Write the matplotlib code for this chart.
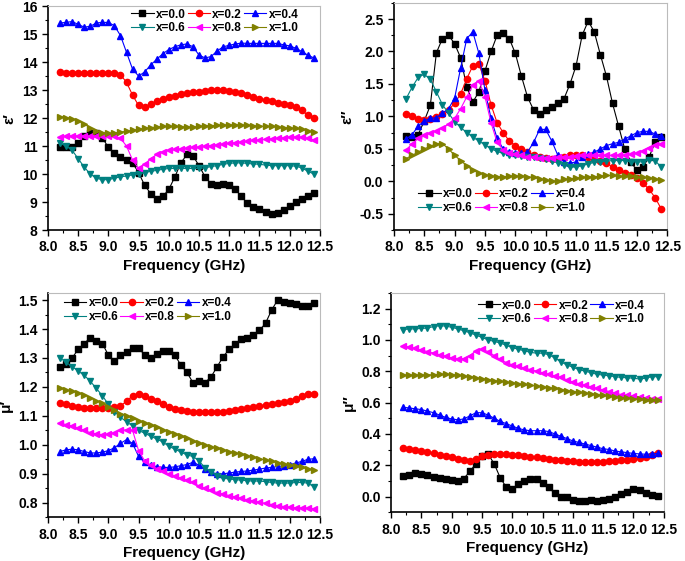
import numpy as np
import matplotlib
matplotlib.use('Agg')
import matplotlib.pyplot as plt
from matplotlib.ticker import MultipleLocator

plt.rcParams['font.family'] = ['Liberation Sans', 'DejaVu Sans']
plt.rcParams['font.weight'] = 'bold'

# frequency grid (GHz), 8.2 .. 12.4 step 0.1
freq = np.round(np.arange(8.2, 12.41, 0.1), 2)

labels = ['x=0.0', 'x=0.2', 'x=0.4', 'x=0.6', 'x=0.8', 'x=1.0']
colors = ['black', 'red', 'blue', '#008080', 'magenta', '#808000']
markers = ['s', 'o', '^', 'v', '<', '>']

# epsilon'
eps1_00 = [10.97, 10.95, 10.95, 11.1, 11.35, 11.45, 11.45, 11.3, 10.95, 10.75, 10.6, 10.5, 10.4, 10.05,
           9.6, 9.3, 9.12, 9.2, 9.45, 9.9, 10.4, 10.7, 10.65, 10.3, 9.9, 9.65, 9.62, 9.65, 9.6, 9.45,
           9.2, 8.95, 8.82, 8.75, 8.65, 8.58, 8.6, 8.7, 8.85, 9.0, 9.1, 9.2, 9.33]
eps1_02 = [13.65, 13.62, 13.62, 13.62, 13.62, 13.62, 13.62, 13.62, 13.62, 13.62, 13.55, 13.28, 12.82, 12.45,
           12.4, 12.5, 12.6, 12.68, 12.75, 12.8, 12.85, 12.88, 12.92, 12.95, 12.98, 13.0, 13.0, 13.0, 12.97,
           12.95, 12.9, 12.82, 12.75, 12.7, 12.65, 12.6, 12.55, 12.5, 12.45, 12.38, 12.28, 12.1, 12.02]
eps1_04 = [15.4, 15.42, 15.45, 15.35, 15.25, 15.28, 15.4, 15.42, 15.42, 15.3, 14.95, 14.35, 13.75, 13.5,
           13.65, 13.9, 14.1, 14.3, 14.45, 14.55, 14.62, 14.65, 14.55, 14.25, 14.15, 14.2, 14.4, 14.55, 14.6,
           14.65, 14.68, 14.67, 14.67, 14.67, 14.67, 14.67, 14.67, 14.62, 14.58, 14.5, 14.38, 14.25, 14.15]
eps1_06 = [11.1, 11.0, 10.85, 10.55, 10.25, 10.0, 9.85, 9.8, 9.8, 9.85, 9.9, 9.93, 9.97, 10.0,
           10.05, 10.1, 10.13, 10.17, 10.2, 10.2, 10.2, 10.2, 10.2, 10.2, 10.22, 10.27, 10.3, 10.35, 10.38,
           10.4, 10.4, 10.38, 10.36, 10.35, 10.32, 10.3, 10.3, 10.3, 10.3, 10.28, 10.22, 10.1, 10.0]
eps1_08 = [11.33, 11.35, 11.37, 11.37, 11.36, 11.36, 11.36, 11.37, 11.37, 11.35, 11.28, 11.0, 10.5, 10.2,
           10.35, 10.55, 10.7, 10.8, 10.85, 10.88, 10.9, 10.92, 10.95, 10.97, 11.0, 11.02, 11.05, 11.07, 11.1,
           11.12, 11.15, 11.17, 11.2, 11.22, 11.24, 11.26, 11.28, 11.3, 11.32, 11.33, 11.32, 11.28, 11.22]
eps1_10 = [12.05, 12.02, 11.98, 11.9, 11.8, 11.65, 11.55, 11.48, 11.45, 11.47, 11.5, 11.53, 11.56, 11.6,
           11.63, 11.66, 11.68, 11.7, 11.7, 11.7, 11.69, 11.68, 11.68, 11.7, 11.72, 11.73, 11.74, 11.75, 11.75,
           11.76, 11.75, 11.74, 11.72, 11.72, 11.7, 11.7, 11.68, 11.66, 11.65, 11.63, 11.6, 11.55, 11.5]

# epsilon''
eps2_00 = [0.70, 0.68, 0.72, 0.93, 1.17, 1.98, 2.2, 2.25, 2.12, 1.9, 1.45, 1.22, 1.38, 1.7,
           2.0, 2.25, 2.28, 2.2, 1.97, 1.62, 1.3, 1.1, 1.04, 1.1, 1.15, 1.2, 1.27, 1.5, 1.78,
           2.25, 2.47, 2.3, 1.95, 1.62, 1.2, 0.85, 0.5, 0.3, 0.17, 0.22, 0.37, 0.6, 0.69]
eps2_02 = [1.03, 1.0, 0.96, 0.95, 0.96, 0.99, 1.04, 1.1, 1.2, 1.35, 1.58, 1.78, 1.8, 1.55,
           1.18, 0.9, 0.75, 0.62, 0.55, 0.5, 0.45, 0.41, 0.38, 0.36, 0.35, 0.36, 0.38, 0.4, 0.41,
           0.41, 0.38, 0.35, 0.32, 0.28, 0.22, 0.17, 0.13, 0.1, 0.05, -0.03, -0.12, -0.25, -0.42]
eps2_04 = [0.65, 0.72, 0.85, 0.93, 0.97, 0.98, 1.05, 1.12, 1.28, 1.75, 2.2, 2.3, 1.97, 1.4,
           0.97, 0.66, 0.5, 0.45, 0.43, 0.43, 0.45, 0.6, 0.8, 0.8, 0.62, 0.4, 0.3, 0.28, 0.3,
           0.38, 0.42, 0.45, 0.5, 0.55, 0.58, 0.6, 0.65, 0.7, 0.75, 0.77, 0.77, 0.73, 0.7]
eps2_06 = [1.27, 1.45, 1.6, 1.65, 1.57, 1.38, 1.18, 1.05, 0.92, 0.83, 0.75, 0.68, 0.62, 0.56,
           0.5, 0.46, 0.43, 0.41, 0.4, 0.39, 0.38, 0.37, 0.36, 0.35, 0.32, 0.28, 0.25, 0.22, 0.22,
           0.24, 0.27, 0.29, 0.3, 0.31, 0.32, 0.32, 0.32, 0.3, 0.3, 0.3, 0.33, 0.32, 0.22]
eps2_08 = [0.48, 0.58, 0.66, 0.71, 0.74, 0.78, 0.82, 0.88, 0.97, 1.12, 1.3, 1.48, 1.55, 1.3,
           0.9, 0.6, 0.48, 0.44, 0.42, 0.4, 0.38, 0.37, 0.36, 0.36, 0.36, 0.37, 0.38, 0.38, 0.39,
           0.4, 0.4, 0.4, 0.4, 0.4, 0.4, 0.4, 0.41, 0.42, 0.44, 0.47, 0.52, 0.56, 0.58]
eps2_10 = [0.35, 0.4, 0.45, 0.5, 0.54, 0.58, 0.58, 0.5, 0.4, 0.32, 0.24, 0.17, 0.13, 0.1,
           0.08, 0.07, 0.07, 0.08, 0.08, 0.08, 0.07, 0.06, 0.04, 0.02, 0.0, 0.01, 0.03, 0.04, 0.05,
           0.06, 0.07, 0.07, 0.08, 0.09, 0.09, 0.08, 0.08, 0.08, 0.07, 0.06, 0.05, 0.04, 0.02]

# mu'
mu1_00 = [1.27, 1.28, 1.3, 1.33, 1.35, 1.37, 1.36, 1.35, 1.31, 1.29, 1.31, 1.32, 1.335, 1.335,
          1.31, 1.3, 1.315, 1.325, 1.325, 1.31, 1.275, 1.25, 1.215, 1.22, 1.215, 1.235, 1.27, 1.305, 1.33,
          1.35, 1.365, 1.37, 1.38, 1.395, 1.42, 1.465, 1.5, 1.495, 1.49, 1.485, 1.48, 1.478, 1.49]
mu1_02 = [1.145, 1.14, 1.135, 1.13, 1.128, 1.128, 1.128, 1.128, 1.128, 1.13, 1.135, 1.15, 1.17, 1.175,
          1.17, 1.16, 1.15, 1.14, 1.13, 1.125, 1.12, 1.118, 1.115, 1.113, 1.112, 1.112, 1.113, 1.115, 1.117,
          1.12, 1.123, 1.127, 1.13, 1.135, 1.138, 1.14, 1.145, 1.148, 1.152, 1.16, 1.168, 1.175, 1.177]
mu1_04 = [0.977, 0.983, 0.985, 0.983, 0.977, 0.972, 0.972, 0.975, 0.98, 0.99, 1.005, 1.018, 1.005, 0.96,
          0.94, 0.93, 0.925, 0.922, 0.922, 0.924, 0.928, 0.932, 0.94, 0.93, 0.915, 0.905, 0.9, 0.9, 0.903,
          0.906, 0.908, 0.91, 0.913, 0.916, 0.92, 0.922, 0.925, 0.928, 0.932, 0.937, 0.943, 0.95, 0.952]
mu1_06 = [1.3, 1.285, 1.27, 1.255, 1.24, 1.22, 1.195, 1.17, 1.14, 1.115, 1.095, 1.08, 1.065, 1.05,
          1.04, 1.03, 1.02, 1.01, 0.995, 0.985, 0.975, 0.965, 0.96, 0.945, 0.92, 0.905, 0.893, 0.885, 0.882,
          0.88, 0.878, 0.876, 0.875, 0.875, 0.873, 0.87, 0.868, 0.868, 0.868, 0.87, 0.87, 0.868, 0.855]
mu1_08 = [1.075, 1.07, 1.065, 1.058, 1.05, 1.042, 1.038, 1.035, 1.037, 1.042, 1.05, 1.052, 1.05, 0.98,
          0.945, 0.93, 0.918, 0.91, 0.9, 0.893, 0.885, 0.878, 0.87, 0.858, 0.85, 0.843, 0.835, 0.83, 0.825,
          0.82, 0.815, 0.81, 0.806, 0.802, 0.798, 0.794, 0.79, 0.787, 0.785, 0.783, 0.782, 0.781, 0.78]
mu1_10 = [1.195, 1.19, 1.185, 1.18, 1.172, 1.163, 1.153, 1.143, 1.132, 1.12, 1.108, 1.1, 1.092, 1.083,
          1.075, 1.067, 1.06, 1.052, 1.045, 1.037, 1.03, 1.022, 1.012, 1.005, 0.998, 0.993, 0.988, 0.982, 0.977,
          0.972, 0.967, 0.962, 0.957, 0.952, 0.948, 0.943, 0.938, 0.935, 0.93, 0.927, 0.922, 0.918, 0.913]

# mu''
mu2_00 = [0.13, 0.14, 0.15, 0.145, 0.135, 0.125, 0.12, 0.115, 0.105, 0.1, 0.115, 0.16, 0.21, 0.26,
          0.27, 0.21, 0.12, 0.06, 0.05, 0.08, 0.1, 0.115, 0.11, 0.085, 0.06, 0.02, -0.005, 0.0, -0.02,
          -0.03, -0.03, -0.025, -0.03, -0.025, -0.015, 0.0, 0.015, 0.03, 0.045, 0.04, 0.025, 0.01, 0.005]
mu2_02 = [0.31, 0.305, 0.298, 0.29, 0.282, 0.275, 0.268, 0.26, 0.252, 0.242, 0.232, 0.225, 0.24, 0.26,
          0.268, 0.27, 0.27, 0.27, 0.268, 0.265, 0.26, 0.255, 0.25, 0.245, 0.24, 0.235, 0.23, 0.227, 0.224,
          0.222, 0.22, 0.22, 0.22, 0.222, 0.225, 0.228, 0.232, 0.235, 0.24, 0.245, 0.255, 0.265, 0.275]
mu2_04 = [0.57, 0.565, 0.56, 0.555, 0.545, 0.535, 0.52, 0.505, 0.495, 0.49, 0.495, 0.515, 0.535, 0.535,
          0.52, 0.5, 0.48, 0.465, 0.45, 0.435, 0.425, 0.42, 0.42, 0.42, 0.415, 0.4, 0.385, 0.37, 0.355,
          0.345, 0.335, 0.325, 0.315, 0.305, 0.3, 0.29, 0.285, 0.28, 0.275, 0.272, 0.27, 0.272, 0.275]
mu2_06 = [1.065, 1.07, 1.07, 1.073, 1.075, 1.085, 1.09, 1.088, 1.08, 1.07, 1.058, 1.045, 1.03, 1.015,
          1.0, 0.99, 0.98, 0.965, 0.95, 0.94, 0.93, 0.92, 0.915, 0.915, 0.905, 0.885, 0.86, 0.84, 0.825,
          0.81, 0.8, 0.79, 0.78, 0.775, 0.77, 0.765, 0.76, 0.758, 0.755, 0.75, 0.755, 0.765, 0.765]
mu2_08 = [0.96, 0.955, 0.945, 0.935, 0.925, 0.915, 0.905, 0.895, 0.885, 0.88, 0.88, 0.9, 0.93, 0.94,
          0.925, 0.9, 0.875, 0.855, 0.84, 0.83, 0.82, 0.81, 0.8, 0.79, 0.78, 0.77, 0.76, 0.745, 0.73,
          0.72, 0.71, 0.7, 0.69, 0.68, 0.67, 0.66, 0.65, 0.645, 0.64, 0.635, 0.63, 0.625, 0.62]
mu2_10 = [0.775, 0.775, 0.775, 0.775, 0.776, 0.778, 0.78, 0.78, 0.778, 0.775, 0.77, 0.765, 0.758, 0.752,
          0.746, 0.74, 0.735, 0.73, 0.725, 0.72, 0.715, 0.71, 0.705, 0.7, 0.695, 0.69, 0.683, 0.676, 0.67,
          0.665, 0.66, 0.655, 0.65, 0.645, 0.64, 0.636, 0.632, 0.628, 0.625, 0.622, 0.619, 0.616, 0.613]

panels = [
    ([eps1_00, eps1_02, eps1_04, eps1_06, eps1_08, eps1_10], 'ε′', (8, 16), 1, 0.5, 'upper right'),
    ([eps2_00, eps2_02, eps2_04, eps2_06, eps2_08, eps2_10], 'ε″', (-0.75, 2.75), 0.5, 0.25, 'lower left'),
    ([mu1_00, mu1_02, mu1_04, mu1_06, mu1_08, mu1_10], 'μ′', (0.75, 1.525), 0.1, 0.05, 'upper left'),
    ([mu2_00, mu2_02, mu2_04, mu2_06, mu2_08, mu2_10], 'μ″', (-0.1, 1.3), 0.2, 0.1, 'upper right'),
]
boxes = [
    [0.070, 0.590, 0.397, 0.399],
    [0.575, 0.590, 0.399, 0.405],
    [0.070, 0.078, 0.397, 0.400],
    [0.571, 0.087, 0.398, 0.391],
]
legend_anchor = [(0.93, 1.0), (0.08, 0.06), (0.05, 0.99), (0.94, 0.98)]
# row-wise legend order for a 3-column legend
order = [0, 3, 1, 4, 2, 5]

fig = plt.figure(figsize=(6.85, 5.61), dpi=100)

for k, (series, ylab, ylim, major, minor, loc) in enumerate(panels):
    ax = fig.add_axes(boxes[k])
    lines = []
    for i, vals in enumerate(series):
        ln, = ax.plot(freq, vals, color=colors[i], marker=markers[i], markersize=4.5,
                      linewidth=0.8, label=labels[i])
        lines.append(ln)
    ax.set_xlim(8.0, 12.5)
    ax.set_ylim(*ylim)
    ax.xaxis.set_major_locator(MultipleLocator(0.5))
    ax.xaxis.set_minor_locator(MultipleLocator(0.25))
    ax.yaxis.set_major_locator(MultipleLocator(major))
    ax.yaxis.set_minor_locator(MultipleLocator(minor))
    ax.xaxis.set_major_formatter(plt.FormatStrFormatter('%.1f'))
    if k == 0:
        ax.yaxis.set_major_formatter(plt.FormatStrFormatter('%d'))
    else:
        ax.yaxis.set_major_formatter(plt.FormatStrFormatter('%.1f'))
    ax.tick_params(which='major', direction='out', length=4, width=1, labelsize=10)
    ax.tick_params(which='minor', direction='out', length=2, width=0.8)
    for lab in ax.get_xticklabels() + ax.get_yticklabels():
        lab.set_fontweight('bold')
    for s in ('left', 'bottom'):
        ax.spines[s].set_linewidth(1.2)
    for s in ('top', 'right'):
        ax.spines[s].set_color('#bbbbbb')
    ax.set_xlabel('Frequency (GHz)', fontsize=11, fontweight='bold', labelpad=3)
    ax.set_ylabel(ylab, fontsize=11, fontweight='bold')
    ax.legend([lines[j] for j in order], [labels[j] for j in order],
              loc=loc, bbox_to_anchor=legend_anchor[k], ncol=3, frameon=False,
              handlelength=1.9, handletextpad=0.2, columnspacing=0.15,
              labelspacing=0.15, borderpad=0.1, borderaxespad=0.1,
              prop={'weight': 'bold', 'size': 8.5})

fig.savefig('out.png', dpi=100)
